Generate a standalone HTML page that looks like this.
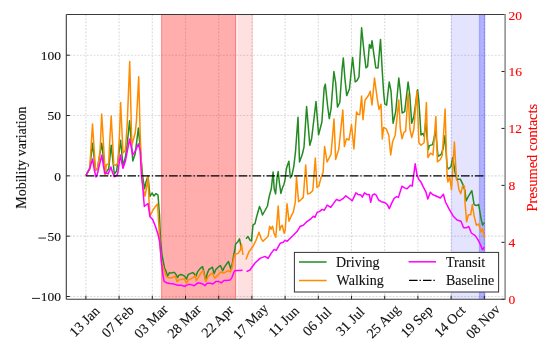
<!DOCTYPE html>
<html><head><meta charset="utf-8"><style>
html,body{margin:0;padding:0;background:#fff;}
body{width:550px;height:348px;overflow:hidden;font-family:"Liberation Serif",serif;}
svg{display:block;will-change:transform;}
</style></head><body>
<svg width="550" height="348" viewBox="0 0 550 348"><rect width="550" height="348" fill="#fff"/><path d="M85.90,14.5 V299.3 M119.10,14.5 V299.3 M152.30,14.5 V299.3 M185.50,14.5 V299.3 M218.70,14.5 V299.3 M251.90,14.5 V299.3 M285.10,14.5 V299.3 M318.30,14.5 V299.3 M351.50,14.5 V299.3 M384.70,14.5 V299.3 M417.90,14.5 V299.3 M451.10,14.5 V299.3 M484.30,14.5 V299.3 M66.3,296.50 H505.1 M66.3,236.17 H505.1 M66.3,175.85 H505.1 M66.3,115.53 H505.1 M66.3,55.20 H505.1" stroke="#000" stroke-opacity="0.14" stroke-width="1.1" stroke-dasharray="1.9 1.5" fill="none"/><rect x="161" y="14.5" width="74.6" height="284.8" fill="#f00" fill-opacity="0.32"/><rect x="160.9" y="14.5" width="1.3" height="284.8" fill="#f00" fill-opacity="0.16"/><rect x="235.0" y="14.5" width="1.2" height="284.8" fill="#f00" fill-opacity="0.37"/><rect x="236.2" y="14.5" width="1.6" height="284.8" fill="#f00" fill-opacity="0.05"/><rect x="237.8" y="14.5" width="15.2" height="284.8" fill="#f00" fill-opacity="0.12"/><rect x="252.2" y="14.5" width="0.9" height="284.8" fill="#f00" fill-opacity="0.06"/><rect x="451" y="14.5" width="34.2" height="284.8" fill="#00f" fill-opacity="0.105"/><rect x="451" y="14.5" width="1.2" height="284.8" fill="#00f" fill-opacity="0.05"/><rect x="478.9" y="14.5" width="6.3" height="284.8" fill="#00f" fill-opacity="0.22"/><rect x="478.9" y="14.5" width="1.4" height="284.8" fill="#00f" fill-opacity="0.08"/><rect x="483.9" y="14.5" width="1.3" height="284.8" fill="#00f" fill-opacity="0.12"/><path d="M86.0,175.4 L89.7,169.0 L92.5,143.2 L95.5,170.5 L97.5,168.5 L101.7,143.2 L105.3,174.5 L107.0,171.0 L108.7,168.7 L111.2,145.2 L114.3,174.0 L116.6,171.0 L119.0,152.6 L120.6,140.2 L123.0,165.9 L125.4,157.3 L127.2,143.9 L129.6,120.7 L132.8,161.0 L135.2,153.7 L138.4,128.0 L140.9,156.1 L142.6,175.7 L144.5,188.8 L146.0,182.0 L148.0,176.0 L150.0,196.5 L152.0,193.0 L154.0,196.0 L156.0,193.6 L158.0,195.0 L159.5,215.0 L160.5,240.0 L162.0,255.0 L164.5,268.0 L166.0,271.0 L167.5,276.1 L169.5,272.6 L171.0,273.1 L172.6,272.6 L174.6,272.6 L176.1,274.6 L177.6,277.6 L179.1,275.1 L180.6,274.6 L182.6,275.1 L184.6,276.1 L186.6,279.1 L188.1,274.6 L190.1,273.6 L192.7,272.6 L194.2,273.6 L195.7,276.6 L197.7,271.6 L200.3,268.4 L202.6,266.7 L205.8,280.5 L207.2,273.6 L208.9,269.5 L210.6,268.4 L212.4,267.2 L214.1,273.6 L215.8,269.5 L218.1,267.2 L220.4,265.5 L222.7,270.7 L224.4,267.2 L226.7,263.8 L228.5,261.5 L230.8,269.0 L232.5,262.6 L233.6,255.7 L234.8,250.0 L235.6,244.0 L237.9,241.7 L239.5,238.8 L241.5,248.9 M246.0,238.8 L248.0,236.6 L250.0,240.2 L251.5,241.0 L253.0,225.0 L255.0,223.7 L256.5,217.2 L259.5,206.5 L261.0,210.0 L262.5,215.0 L265.0,210.5 L267.5,206.0 L268.5,200.0 L269.6,195.0 L271.3,188.8 L273.1,172.1 L274.2,188.8 L275.6,193.9 L277.1,177.3 L278.2,171.5 L279.4,183.0 L280.9,193.4 L282.3,188.2 L284.0,184.2 L285.1,179.6 L286.3,169.2 L287.4,165.2 L288.9,161.2 L290.3,177.8 L292.0,175.0 L293.8,166.3 L295.5,151.7 L298.0,117.3 L299.5,162.0 L302.4,154.0 L304.0,147.2 L306.6,106.5 L309.8,145.2 L311.6,138.8 L316.0,101.5 L318.6,134.7 L321.9,122.0 L324.2,87.6 L325.3,84.1 L327.6,106.0 L329.3,118.6 L331.1,108.3 L333.9,71.5 L335.7,83.0 L337.5,107.1 L339.8,102.5 L342.1,69.2 L343.3,58.0 L344.9,78.4 L346.7,95.6 L349.5,88.7 L352.6,57.5 L355.2,82.0 L357.0,80.7 L359.0,76.8 L361.6,27.8 L364.2,53.6 L366.0,67.8 L367.6,66.5 L369.4,44.5 L371.0,48.4 L372.0,40.7 L373.8,53.6 L375.8,67.8 L378.0,68.0 L380.5,39.4 L382.3,71.7 L383.6,92.3 L384.8,104.0 L386.6,105.2 L389.2,82.0 L391.0,91.0 L393.1,123.3 L395.7,111.7 L398.8,78.1 L400.3,91.0 L402.1,113.0 L404.7,111.7 L408.1,82.0 L409.9,96.2 L411.7,123.3 L413.8,116.8 L417.6,89.7 L418.9,101.3 L421.0,135.0 L422.8,133.6 L424.1,136.2 L425.7,122.6 L428.3,149.7 L429.4,145.6 L432.6,144.6 L435.6,131.0 L438.0,156.4 L441.2,154.3 L443.3,148.0 L445.0,135.5 L447.1,166.5 L448.4,169.0 L451.0,166.5 L452.8,157.5 L454.9,171.7 L456.9,179.2 L460.3,179.2 L462.6,183.8 L465.0,190.7 L466.1,201.0 L468.4,196.4 L471.8,190.7 L474.1,204.5 L476.4,205.6 L478.7,204.5 L481.0,218.3 L482.6,225.2 L484.5,222.4" stroke="#228b22" stroke-width="1.5" fill="none" stroke-linejoin="round"/><path d="M86.0,175.4 L89.7,168.7 L92.5,124.1 L95.5,170.0 L97.5,168.7 L100.1,150.2 L101.7,114.0 L105.3,174.5 L106.4,164.7 L108.7,163.6 L109.8,140.0 L111.2,116.0 L113.8,164.7 L116.1,165.3 L117.8,163.0 L119.5,135.0 L120.6,102.5 L123.0,153.0 L125.4,150.0 L127.2,124.3 L129.7,61.6 L131.8,145.0 L133.5,139.0 L135.2,133.0 L136.4,121.5 L138.7,76.7 L140.1,131.7 L141.8,175.7 L143.0,188.0 L145.0,196.0 L147.0,185.0 L148.0,176.0 L149.0,200.0 L150.0,216.0 L152.0,212.0 L153.0,210.0 L155.0,207.0 L157.5,204.0 L158.5,220.0 L160.0,245.0 L161.5,262.0 L164.0,270.0 L166.5,276.6 L168.0,277.6 L170.0,278.1 L172.6,277.6 L175.1,276.1 L177.1,281.6 L178.6,280.1 L180.1,279.6 L182.0,279.6 L184.1,278.6 L186.6,283.1 L188.1,280.1 L190.1,279.1 L193.2,277.6 L195.2,275.6 L196.2,280.6 L198.2,277.6 L200.9,273.0 L203.2,270.7 L205.8,281.6 L207.8,277.0 L210.1,274.7 L212.4,273.0 L214.7,278.2 L217.0,275.9 L219.3,273.6 L221.0,271.8 L222.7,273.0 L225.0,272.4 L226.7,271.3 L228.5,270.7 L230.2,271.8 L231.9,268.4 L233.1,261.5 L234.6,254.6 L236.0,254.0 L238.0,253.4 L240.5,250.0 L241.5,244.3 L243.0,255.0 M246.0,259.4 L249.0,251.5 L250.0,250.4 L253.0,246.3 L256.0,240.3 L259.0,232.3 L261.0,238.3 L263.0,241.3 L266.1,238.3 L268.1,236.3 L269.7,226.2 L271.1,229.2 L272.5,226.2 L274.1,233.3 L275.8,237.3 L278.2,206.1 L279.8,230.2 L281.2,226.2 L282.2,225.2 L284.2,233.3 L285.2,230.2 L287.0,203.7 L289.0,221.2 L291.2,216.2 L293.3,212.1 L295.3,202.1 L296.5,177.0 L298.6,201.7 L300.7,200.0 L303.3,197.4 L305.7,165.0 L307.6,194.0 L310.2,193.1 L312.8,190.5 L315.3,158.0 L317.0,187.5 L318.8,186.2 L321.0,177.6 L323.1,172.4 L324.6,146.5 L327.1,162.0 L331.0,154.3 L334.0,119.0 L335.7,159.4 L338.8,149.1 L342.8,110.0 L344.4,146.5 L346.5,138.8 L349.0,140.0 L351.5,124.5 L353.9,149.0 L356.5,112.0 L358.0,114.5 L359.8,114.5 L361.6,96.0 L363.0,119.7 L365.0,100.3 L366.8,97.8 L368.6,95.2 L370.2,91.3 L372.0,105.0 L374.5,78.1 L377.1,97.8 L379.0,109.4 L381.0,104.2 L382.3,139.0 L383.6,127.5 L386.2,128.8 L388.8,135.2 L390.7,155.0 L392.6,141.7 L395.2,135.2 L398.8,100.0 L400.3,128.5 L402.1,138.8 L403.9,132.4 L405.6,131.3 L408.1,93.6 L409.9,128.5 L411.7,137.5 L413.8,129.8 L416.9,91.0 L418.9,142.7 L421.0,145.3 L424.1,142.7 L426.4,102.6 L427.9,157.5 L430.5,153.2 L433.0,155.0 L435.9,116.6 L437.4,161.8 L440.2,159.7 L442.3,155.3 L445.1,109.0 L447.1,176.8 L447.9,182.0 L449.7,176.8 L451.5,189.8 L454.4,142.0 L456.5,180.0 L457.5,180.7 L459.0,190.0 L460.8,193.6 L462.6,186.0 L464.4,185.9 L465.0,202.2 L466.6,221.7 L468.4,214.8 L470.7,214.8 L472.3,204.5 L474.1,216.0 L476.4,225.2 L478.7,224.0 L481.0,232.0 L482.6,228.6 L484.5,237.8" stroke="#ff8c00" stroke-width="1.5" fill="none" stroke-linejoin="round"/><path d="M86.0,175.4 L90.0,167.5 L92.6,159.0 L94.3,170.0 L96.0,177.0 L97.2,174.5 L101.7,155.3 L104.7,173.3 L106.4,172.8 L108.1,174.0 L110.9,167.0 L112.6,172.8 L114.3,176.8 L116.6,175.6 L117.8,173.3 L120.3,155.0 L123.0,168.3 L125.4,161.0 L129.6,139.0 L132.8,154.9 L135.2,151.2 L138.4,143.9 L140.1,150.0 L141.5,176.0 L142.6,185.0 L144.3,206.5 L146.0,205.0 L148.0,203.6 L150.0,216.8 L152.6,219.4 L155.2,225.8 L157.8,233.6 L159.8,242.6 L161.6,264.6 L162.9,275.0 L164.0,281.1 L167.0,283.1 L170.0,283.6 L174.1,284.1 L177.6,285.2 L181.0,285.2 L184.6,286.2 L188.1,284.6 L191.0,284.6 L194.2,285.7 L198.0,282.8 L200.3,283.3 L202.6,283.9 L204.9,285.6 L207.2,283.3 L210.6,283.3 L212.9,283.9 L215.8,281.6 L218.7,281.6 L221.6,282.8 L223.9,280.5 L226.7,280.5 L230.2,279.9 L231.9,277.6 L233.6,273.0 L234.8,270.7 L237.1,270.5 L240.9,270.5 L242.5,270.0 M246.5,271.6 L250.0,270.0 L255.0,263.0 L260.0,258.4 L265.0,256.4 L268.1,258.4 L271.1,253.4 L274.1,249.4 L276.2,250.4 L280.2,243.3 L283.2,242.3 L285.2,240.3 L287.2,241.3 L290.2,238.3 L293.3,235.3 L297.3,231.2 L300.3,226.2 L303.3,225.2 L306.3,222.2 L310.4,219.2 L313.4,216.2 L315.0,217.3 L317.2,212.3 L319.3,211.6 L322.2,209.4 L324.3,210.2 L327.2,205.1 L330.8,207.3 L332.9,204.4 L336.5,199.4 L339.4,200.8 L343.0,198.7 L345.8,195.8 L348.7,198.0 L352.3,200.8 L355.9,192.9 L358.0,194.4 L360.9,195.1 L362.3,197.2 L364.5,192.9 L366.6,194.4 L369.2,194.4 L370.7,202.3 L372.4,195.1 L374.4,194.0 L376.0,194.8 L378.6,200.0 L381.2,201.7 L384.7,202.6 L387.2,204.3 L389.3,208.6 L391.6,203.4 L394.1,198.3 L396.7,196.6 L398.4,197.4 L401.9,186.2 L404.5,187.9 L407.1,188.8 L410.5,185.3 L412.2,186.2 L415.2,163.8 L416.9,174.1 L418.6,179.3 L420.9,181.9 L423.4,187.1 L426.0,192.2 L427.8,199.1 L430.3,192.2 L432.9,194.8 L435.5,195.7 L440.3,198.0 L443.4,194.2 L445.5,202.0 L449.4,209.7 L453.3,216.2 L457.1,220.0 L461.0,221.3 L463.6,227.8 L466.2,227.8 L468.8,226.5 L471.3,233.0 L475.2,235.6 L477.8,239.4 L480.4,244.6 L482.5,249.8 L484.3,247.2" stroke="#ff00ff" stroke-width="1.5" fill="none" stroke-linejoin="round"/><line x1="85.7" y1="175.85" x2="484.3" y2="175.85" stroke="#000" stroke-width="1.4" stroke-dasharray="8.6 1.9 1.4 2"/><path d="M85.90,299.3 v-3.6 M119.10,299.3 v-3.6 M152.30,299.3 v-3.6 M185.50,299.3 v-3.6 M218.70,299.3 v-3.6 M251.90,299.3 v-3.6 M285.10,299.3 v-3.6 M318.30,299.3 v-3.6 M351.50,299.3 v-3.6 M384.70,299.3 v-3.6 M417.90,299.3 v-3.6 M451.10,299.3 v-3.6 M484.30,299.3 v-3.6 M66.3,296.50 h3.5 M66.3,236.17 h3.5 M66.3,175.85 h3.5 M66.3,115.53 h3.5 M66.3,55.20 h3.5 M505.1,299.30 h-3.6 M505.1,242.34 h-3.6 M505.1,185.38 h-3.6 M505.1,128.42 h-3.6 M505.1,71.46 h-3.6 M505.1,14.50 h-3.6" stroke="#222" stroke-width="1" fill="none"/><path d="M66.3,14.5 H505.1 M66.3,14.5 V299.3 M66.3,299.3 H505.1" fill="none" stroke="#3a3a3a" stroke-width="1.1"/><path d="M505.1,14.0 V299.8" fill="none" stroke="#8a8a8a" stroke-width="1.5"/><rect x="294.4" y="252.4" width="204.2" height="39.6" fill="#fff" stroke="#333" stroke-width="1"/><line x1="299" y1="262" x2="326.6" y2="262" stroke="#228b22" stroke-width="1.5"/><line x1="299" y1="280.5" x2="326.6" y2="280.5" stroke="#ff8c00" stroke-width="1.5"/><line x1="408.6" y1="261.8" x2="436" y2="261.8" stroke="#ff00ff" stroke-width="1.5"/><line x1="409" y1="280.4" x2="436" y2="280.4" stroke="#000" stroke-width="1.4" stroke-dasharray="8.6 1.9 1.4 2"/><g font-family="Liberation Serif, serif" font-size="14" fill="#111" stroke="#111" stroke-width="0.12"><text x="336" y="267.4">Driving</text><text x="336.6" y="285.4">Walking</text><text x="446" y="267.4">Transit</text><text x="446" y="285.4">Baseline</text></g><g font-family="Liberation Serif, serif" font-size="13.5" fill="#111" stroke="#111" stroke-width="0.12" text-anchor="end"><text x="61.1" y="60.10">100</text><text x="61.1" y="120.43">50</text><text x="61.1" y="180.75">0</text><text x="61.1" y="241.07">50</text><text x="61.1" y="301.40">100</text></g><path d="M38.4,238.07 h7.6 M32,298.40 h8" stroke="#111" stroke-width="0.9"/><g font-family="Liberation Serif, serif" font-size="13.5" fill="#ff0000" stroke="#ff0000" stroke-width="0.12"><text x="508.6" y="304.30">0</text><text x="508.6" y="247.34">4</text><text x="508.6" y="190.38">8</text><text x="508.6" y="133.42">12</text><text x="508.6" y="76.46">16</text><text x="508.6" y="19.50">20</text></g><g font-family="Liberation Serif, serif" font-size="14" fill="#111" stroke="#111" stroke-width="0.12" text-anchor="middle"><text transform="translate(84.60,321.5) rotate(-45)" y="4.5">13 Jan</text><text transform="translate(117.80,321.5) rotate(-45)" y="4.5">07 Feb</text><text transform="translate(151.00,321.5) rotate(-45)" y="4.5">03 Mar</text><text transform="translate(184.20,321.5) rotate(-45)" y="4.5">28 Mar</text><text transform="translate(217.40,321.5) rotate(-45)" y="4.5">22 Apr</text><text transform="translate(250.60,321.5) rotate(-45)" y="4.5">17 May</text><text transform="translate(283.80,321.5) rotate(-45)" y="4.5">11 Jun</text><text transform="translate(317.00,321.5) rotate(-45)" y="4.5">06 Jul</text><text transform="translate(350.20,321.5) rotate(-45)" y="4.5">31 Jul</text><text transform="translate(383.40,321.5) rotate(-45)" y="4.5">25 Aug</text><text transform="translate(416.60,321.5) rotate(-45)" y="4.5">19 Sep</text><text transform="translate(449.80,321.5) rotate(-45)" y="4.5">14 Oct</text><text transform="translate(483.00,321.5) rotate(-45)" y="4.5">08 Nov</text></g><text font-family="Liberation Serif, serif" font-size="14" fill="#111" stroke="#111" stroke-width="0.12" text-anchor="middle" transform="translate(25.5,157.6) rotate(-90)">Mobility variation</text><text font-family="Liberation Serif, serif" font-size="14.4" fill="#ff0000" stroke="#ff0000" stroke-width="0.12" text-anchor="middle" transform="translate(537.2,157.7) rotate(-90)">Presumed contacts</text></svg>
</body></html>
